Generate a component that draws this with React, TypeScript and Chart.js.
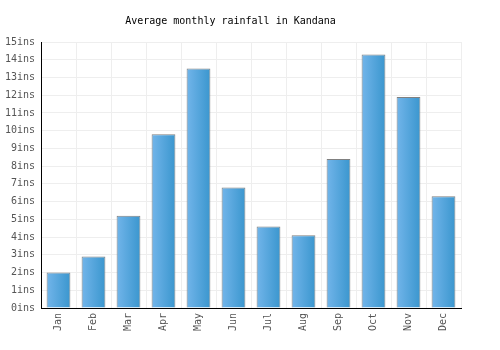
import React, { useEffect, useRef } from "react";
import { Chart, registerables } from "chart.js";

Chart.register(...registerables);

const months = ["Jan", "Feb", "Mar", "Apr", "May", "Jun", "Jul", "Aug", "Sep", "Oct", "Nov", "Dec"];
const rainfall = [2.0, 2.9, 5.2, 9.8, 13.5, 6.8, 4.6, 4.1, 8.4, 14.3, 11.9, 6.3];
const titleText = "Average monthly rainfall in Kandana";
const unit = "ins";

const FONT = "'DejaVu Sans Mono', monospace";

const gradientPlugin = {
  id: "barGradient",
  beforeDatasetsDraw(chart: any) {
    const ctx = chart.ctx;
    chart.getSortedVisibleDatasetMetas().forEach((meta: any) => {
      meta.data.forEach((bar: any) => {
        const half = bar.width / 2;
        const g = ctx.createLinearGradient(bar.x - half, 0, bar.x + half, 0);
        g.addColorStop(0, "#72b5ea");
        g.addColorStop(1, "#3a96ce");
        bar.options = { ...bar.options, backgroundColor: g };
      });
    });
  },
};

export default function App() {
  const ref = useRef<HTMLCanvasElement | null>(null);
  useEffect(() => {
    if (!ref.current) return;
    const chart = new Chart(ref.current, {
      type: "bar",
      data: {
        labels: months,
        datasets: [
          {
            data: rainfall,
            backgroundColor: "#55a6dc",
            borderColor: "#808080",
            borderWidth: 1,
            categoryPercentage: 1,
            barPercentage: 0.68,
          },
        ],
      },
      options: {
        animation: false,
        responsive: false,
        maintainAspectRatio: false,
        layout: { padding: { left: 0, right: 39, top: 0, bottom: 0 } },
        plugins: {
          legend: { display: false },
          tooltip: { enabled: false },
          title: {
            display: true,
            text: titleText,
            color: "#000",
            font: { family: FONT, size: 10, weight: "normal" },
            padding: { top: 15, bottom: 15 },
          },
        },
        scales: {
          x: {
            grid: { color: "#eeeeee", lineWidth: 1, drawTicks: false, offset: true },
            border: { color: "#000", width: 1 },
            ticks: {
              color: "#555",
              font: { family: FONT, size: 10 },
              maxRotation: 90,
              minRotation: 90,
              padding: 5,
            },
            afterFit(scale: any) {
              scale.height = 42;
            },
          },
          y: {
            min: 0,
            max: 15,
            grid: { color: "#eeeeee", lineWidth: 1, drawTicks: false },
            border: { color: "#000", width: 1 },
            ticks: {
              stepSize: 1,
              color: "#555",
              font: { family: FONT, size: 10 },
              padding: 6,
              callback: (v: any) => v + unit,
            },
            afterFit(scale: any) {
              scale.width = 41;
            },
          },
        },
      },
      plugins: [gradientPlugin],
    });
    return () => chart.destroy();
  }, []);
  return (
    <div style={{ position: "absolute", left: 0, top: 0, width: 500, height: 350, background: "#fff" }}>
      <canvas ref={ref} width={500} height={350} style={{ width: 500, height: 350 }} />
    </div>
  );
}
